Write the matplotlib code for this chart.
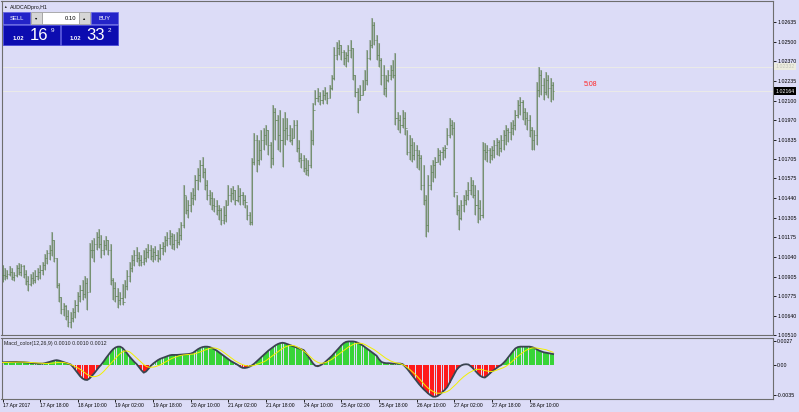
import numpy as np
import matplotlib
matplotlib.use("Agg")
import matplotlib.pyplot as plt
from matplotlib.patches import Rectangle

plt.rcParams['font.family'] = ['Liberation Sans', 'DejaVu Sans']

# ---- data (AUDCAD H1, 17-28 Apr 2017) ----
highs = [1.00987, 1.00967, 1.00953, 1.00980, 1.00967, 1.00939, 1.00987, 1.01001, 1.00994, 1.00987,
         1.00953, 1.00912, 1.00926, 1.00939, 1.00953, 1.00967, 1.00987, 1.01007, 1.01062, 1.01089,
         1.01123, 1.01211, 1.01157, 1.01035, 1.00866, 1.00770, 1.00730, 1.00716, 1.00682, 1.00668,
         1.00696, 1.00750, 1.00804, 1.00852, 1.00886, 1.00912, 1.00899, 1.01136, 1.01157, 1.01170,
         1.01211, 1.01232, 1.01191, 1.01157, 1.01184, 1.01157, 1.01130, 1.00899, 1.00872, 1.00832,
         1.00804, 1.00859, 1.00886, 1.00953, 1.01007, 1.01055, 1.01089, 1.01109, 1.01075, 1.01055,
         1.01089, 1.01103, 1.01130, 1.01123, 1.01103, 1.01116, 1.01089, 1.01130, 1.01143, 1.01184,
         1.01211, 1.01225, 1.01204, 1.01198, 1.01211, 1.01238, 1.01279, 1.01530, 1.01455, 1.01428,
         1.01482, 1.01509, 1.01597, 1.01645, 1.01699, 1.01719, 1.01645, 1.01564, 1.01496, 1.01482,
         1.01442, 1.01428, 1.01394, 1.01374, 1.01387, 1.01428, 1.01530, 1.01509, 1.01523, 1.01496,
         1.01530, 1.01509, 1.01482, 1.01462, 1.01394, 1.01346, 1.01713, 1.01882, 1.01869, 1.01835,
         1.01903, 1.01916, 1.01936, 1.01903, 1.01821, 1.02072, 1.02052, 1.02004, 1.02038, 1.01984,
         1.02025, 1.01984, 1.01936, 1.01916, 1.01970, 1.01970, 1.01835, 1.01747, 1.01733, 1.01713,
         1.01699, 1.01903, 1.02086, 1.02174, 1.02187, 1.02160, 1.02174, 1.02194, 1.02160, 1.02208,
         1.02275, 1.02465, 1.02499, 1.02513, 1.02479, 1.02445, 1.02431, 1.02479, 1.02513, 1.02459,
         1.02275, 1.02187, 1.02208, 1.02242, 1.02309, 1.02445, 1.02513, 1.02662, 1.02635, 1.02547,
         1.02492, 1.02391, 1.02343, 1.02275, 1.02309, 1.02343, 1.02377, 1.02425, 1.02025, 1.02004,
         1.02038, 1.02025, 1.01903, 1.01869, 1.01848, 1.01821, 1.01801, 1.01767, 1.01733, 1.01665,
         1.01462, 1.01597, 1.01665, 1.01699, 1.01719, 1.01781, 1.01767, 1.01787, 1.01801, 1.01916,
         1.01984, 1.01970, 1.01957, 1.01462, 1.01394, 1.01428, 1.01462, 1.01496, 1.01550, 1.01584,
         1.01564, 1.01530, 1.01496, 1.01428, 1.01821, 1.01814, 1.01801, 1.01781, 1.01794, 1.01835,
         1.01848, 1.01835, 1.01869, 1.01903, 1.01936, 1.01916, 1.01957, 1.01970, 1.02038, 1.02106,
         1.02126, 1.02106, 1.02052, 1.02025, 1.02004, 1.01923, 1.01903, 1.02228, 1.02330, 1.02309,
         1.02255, 1.02296, 1.02275, 1.02255, 1.02228]
lows = [1.00872, 1.00886, 1.00893, 1.00912, 1.00886, 1.00879, 1.00906, 1.00919, 1.00912, 1.00899,
        1.00852, 1.00811, 1.00845, 1.00859, 1.00866, 1.00886, 1.00893, 1.00919, 1.00953, 1.00994,
        1.01021, 1.01048, 1.01007, 1.00832, 1.00737, 1.00655, 1.00641, 1.00614, 1.00567, 1.00560,
        1.00601, 1.00628, 1.00668, 1.00737, 1.00750, 1.00764, 1.00682, 1.00804, 1.01035, 1.01007,
        1.01089, 1.01103, 1.01035, 1.01055, 1.01089, 1.01055, 1.00852, 1.00750, 1.00737, 1.00696,
        1.00716, 1.00716, 1.00764, 1.00818, 1.00872, 1.00939, 1.00980, 1.01007, 1.00980, 1.00980,
        1.00987, 1.01007, 1.01035, 1.01021, 1.01007, 1.01021, 1.01007, 1.01021, 1.01055, 1.01075,
        1.01116, 1.01123, 1.01096, 1.01089, 1.01103, 1.01123, 1.01157, 1.01238, 1.01333, 1.01306,
        1.01346, 1.01394, 1.01428, 1.01496, 1.01550, 1.01577, 1.01496, 1.01428, 1.01394, 1.01360,
        1.01346, 1.01326, 1.01292, 1.01259, 1.01265, 1.01279, 1.01394, 1.01414, 1.01428, 1.01394,
        1.01414, 1.01394, 1.01394, 1.01374, 1.01292, 1.01259, 1.01259, 1.01665, 1.01618, 1.01665,
        1.01699, 1.01767, 1.01801, 1.01733, 1.01645, 1.01665, 1.01835, 1.01767, 1.01753, 1.01652,
        1.01801, 1.01835, 1.01821, 1.01801, 1.01848, 1.01753, 1.01686, 1.01645, 1.01618, 1.01597,
        1.01591, 1.01645, 1.01801, 1.02072, 1.02092, 1.02072, 1.02079, 1.02106, 1.02079, 1.02120,
        1.02174, 1.02242, 1.02377, 1.02411, 1.02377, 1.02343, 1.02330, 1.02364, 1.02391, 1.02242,
        1.02126, 1.02018, 1.02106, 1.02140, 1.02174, 1.02208, 1.02377, 1.02459, 1.02479, 1.02377,
        1.02330, 1.02208, 1.02140, 1.02126, 1.02228, 1.02242, 1.02255, 1.01936, 1.01903, 1.01882,
        1.01916, 1.01869, 1.01733, 1.01699, 1.01686, 1.01699, 1.01645, 1.01631, 1.01496, 1.01394,
        1.01177, 1.01211, 1.01496, 1.01550, 1.01577, 1.01686, 1.01665, 1.01699, 1.01713, 1.01801,
        1.01848, 1.01869, 1.01448, 1.01326, 1.01225, 1.01292, 1.01346, 1.01394, 1.01428, 1.01462,
        1.01442, 1.01326, 1.01272, 1.01292, 1.01306, 1.01699, 1.01686, 1.01679, 1.01699, 1.01713,
        1.01733, 1.01726, 1.01753, 1.01767, 1.01801, 1.01821, 1.01835, 1.01869, 1.01903, 1.01984,
        1.02004, 1.01970, 1.01936, 1.01903, 1.01855, 1.01767, 1.01767, 1.01801, 1.02126, 1.02140,
        1.02106, 1.02140, 1.02120, 1.02092, 1.02106]
closes = [1.00919, 1.00912, 1.00926, 1.00939, 1.00906, 1.00919, 1.00967, 1.00939, 1.00980, 1.00926,
          1.00879, 1.00859, 1.00899, 1.00886, 1.00912, 1.00939, 1.00953, 1.00987, 1.01035, 1.01069,
          1.01089, 1.01157, 1.01035, 1.00852, 1.00770, 1.00689, 1.00709, 1.00641, 1.00601, 1.00628,
          1.00668, 1.00716, 1.00777, 1.00818, 1.00791, 1.00866, 1.00804, 1.01089, 1.01089, 1.01130,
          1.01177, 1.01130, 1.01089, 1.01123, 1.01157, 1.01089, 1.00886, 1.00832, 1.00777, 1.00750,
          1.00764, 1.00737, 1.00845, 1.00912, 1.00967, 1.01021, 1.01055, 1.01035, 1.01021, 1.01007,
          1.01035, 1.01075, 1.01089, 1.01048, 1.01075, 1.01055, 1.01035, 1.01103, 1.01116, 1.01157,
          1.01170, 1.01184, 1.01130, 1.01157, 1.01143, 1.01191, 1.01259, 1.01462, 1.01360, 1.01394,
          1.01442, 1.01462, 1.01564, 1.01597, 1.01665, 1.01618, 1.01530, 1.01462, 1.01442, 1.01394,
          1.01387, 1.01360, 1.01360, 1.01292, 1.01326, 1.01394, 1.01462, 1.01475, 1.01496, 1.01428,
          1.01455, 1.01462, 1.01428, 1.01414, 1.01326, 1.01279, 1.01686, 1.01835, 1.01699, 1.01767,
          1.01835, 1.01869, 1.01903, 1.01801, 1.01713, 1.02024, 1.01970, 1.01869, 1.01835, 1.01903,
          1.01916, 1.01869, 1.01835, 1.01848, 1.01936, 1.01780, 1.01713, 1.01699, 1.01645, 1.01631,
          1.01665, 1.01835, 1.02038, 1.02120, 1.02133, 1.02106, 1.02140, 1.02153, 1.02120, 1.02187,
          1.02255, 1.02411, 1.02459, 1.02479, 1.02431, 1.02391, 1.02411, 1.02445, 1.02459, 1.02275,
          1.02160, 1.02106, 1.02140, 1.02174, 1.02242, 1.02391, 1.02479, 1.02614, 1.02513, 1.02411,
          1.02377, 1.02275, 1.02187, 1.02242, 1.02275, 1.02309, 1.02275, 1.01984, 1.01970, 1.01936,
          1.01984, 1.01916, 1.01753, 1.01801, 1.01733, 1.01767, 1.01733, 1.01713, 1.01530, 1.01428,
          1.01259, 1.01530, 1.01618, 1.01665, 1.01686, 1.01733, 1.01753, 1.01767, 1.01781, 1.01869,
          1.01936, 1.01916, 1.01482, 1.01360, 1.01306, 1.01394, 1.01428, 1.01462, 1.01496, 1.01530,
          1.01462, 1.01394, 1.01374, 1.01326, 1.01767, 1.01753, 1.01767, 1.01733, 1.01767, 1.01801,
          1.01821, 1.01781, 1.01835, 1.01869, 1.01903, 1.01889, 1.01916, 1.01936, 1.02004, 1.02072,
          1.02092, 1.02025, 1.01984, 1.01970, 1.01903, 1.01835, 1.01869, 1.02174, 1.02275, 1.02208,
          1.02160, 1.02242, 1.02187, 1.02208, 1.02164]

# MACD main line and signal, in units of 1e-4
macd_e4 = [2.5, 2.6, 2.7, 2.8, 2.9, 3.0, 3.0, 2.9, 2.8, 2.6,
           2.4, 2.1, 1.8, 1.4, 1.2, 1.0, 1.0, 1.0, 1.5, 2.2,
           3.0, 3.8, 4.6, 5.0, 4.5, 3.6, 2.8, 1.8, 0.8, 0.0,
           -3.0, -6.5, -10, -13.5, -16, -17.5, -17.8, -16, -13, -10,
           -6.5, -3, 0, 3.5, 7.5, 11, 14.5, 17.5, 19.5, 20.5,
           20.5, 19, 16, 12.5, 9, 6, 3, 0.5, -3, -6.5,
           -9.4, -8, -5, -1.5, 1, 3, 5, 6.5, 7.5, 8.5,
           9.5, 10.5, 11, 11, 11, 11.2, 11.4, 11.6, 11.8, 12,
           12.5, 13.5, 15.5, 17.5, 19, 20, 20.5, 20.5, 20, 19,
           17.5, 16, 14, 12, 10, 8, 6, 4, 2.5, 1,
           -0.5, -2.5, -3.8, -4, -3.5, -2.5, -1, 1, 3.5, 6,
           8.5, 11, 13.5, 16, 18, 20, 22, 23.5, 24.5, 25,
           24.5, 23.5, 22.5, 21.5, 20.5, 19.5, 18.5, 17.5, 16.5, 13,
           9, 5, 1, -1.5, -2, -1, 0.5, 2.5, 5, 7.5,
           10, 13, 16, 19, 22, 24.5, 26, 26.5, 26.5, 26.5,
           26, 25, 23.5, 22, 20, 18, 16, 14, 12, 10,
           6, 3, 2, 1.5, 1.5, 1.2, 1.0, 1.0, 1.0, 1.0,
           0.5, -2, -5, -8.5, -12, -15.5, -19, -22.5, -25.5, -28.5,
           -31, -33.5, -35.5, -37, -37, -36, -34, -31.5, -29, -26,
           -21, -16, -11, -6, -3, -1, 0, 0.3, 0, -2,
           -4.5, -7.5, -10.5, -13, -14.5, -15, -13, -10.5, -8, -6,
           -4, -2, -0.5, 2, 5, 8.5, 12, 15.5, 18.5, 20,
           20.5, 20.5, 20.5, 20.5, 20.5, 20, 19, 17.5, 16, 15,
           14, 13.5, 13, 12.5, 12]
signal_e4 = [2.2, 2.3, 2.4, 2.5, 2.6, 2.7, 2.8, 2.8, 2.8, 2.7,
             2.6, 2.5, 2.3, 2.1, 1.9, 1.7, 1.5, 1.3, 1.2, 1.2,
             1.3, 1.5, 1.8, 2.1, 2.4, 2.5, 2.3, 1.8, 1.0, 0,
             -1.2, -2.5, -4.0, -5.5, -7.5, -9.5, -11.5, -13, -14, -14,
             -13.5, -12.5, -10.5, -8, -5, -2, 1, 4, 7, 10,
             12.5, 14.5, 15.5, 15.5, 14.5, 12.5, 10, 7.5, 5, 2.5,
             0, -2, -3, -3.2, -3, -2.5, -1.5, -0.5, 1, 2.5,
             4, 5.5, 7, 8, 9, 10, 10.5, 11, 11.3, 11.5,
             11.7, 12, 12.5, 13.5, 14.5, 15.5, 16.5, 17.5, 18.5, 19,
             19, 18.5, 17.5, 16, 14, 12, 10, 8, 6, 4,
             2.5, 1, 0, -1, -1.5, -1.7, -1.5, -1, 0, 1,
             2, 3, 4.5, 6.5, 8.5, 10.5, 12.5, 14.5, 16.5, 18.5,
             20, 21, 22, 22, 21.5, 20.5, 19, 17.5, 15.5, 13.5,
             11, 8.5, 6, 4, 2.5, 1.5, 1.5, 2, 3, 4.5,
             6, 8, 10, 12, 14, 16, 18, 20, 21.5, 23,
             24, 24.5, 24.5, 24, 23, 21.5, 20, 18.5, 17, 15,
             13, 11, 9, 7, 5.5, 4, 3, 2, 1.5, 1,
             0, -1.5, -3.5, -5.5, -8, -10.5, -13, -16, -19, -22,
             -25, -27.5, -29.5, -31, -32.5, -33, -33, -32.5, -32, -31,
             -29.5, -27, -24.5, -22, -19, -16.5, -14, -12, -10, -8.5,
             -7, -6, -5.5, -5.5, -6, -7, -7.5, -8, -8, -7.5,
             -6.5, -5.5, -4.5, -3.5, -2, 0, 2, 4.5, 7, 9.5,
             11.5, 13.5, 15.5, 17, 18, 19, 19, 19, 18.5, 18,
             17.5, 17, 16, 15, 14]

price_ticks = [1.02635, 1.02500, 1.02370, 1.02235, 1.02100, 1.01970, 1.01835, 1.01705, 1.01575,
               1.01440, 1.01305, 1.01175, 1.01040, 1.00905, 1.00775, 1.00640, 1.00510]
macd_ticks = [0.0027, 0.0, -0.0035]
macd_tick_labels = ["0.0027", "0.00", "-0.0035"]
time_labels = ["17 Apr 2017", "17 Apr 18:00", "18 Apr 10:00", "19 Apr 02:00", "19 Apr 18:00",
               "20 Apr 10:00", "21 Apr 02:00", "21 Apr 18:00", "24 Apr 10:00", "25 Apr 02:00",
               "25 Apr 18:00", "26 Apr 10:00", "27 Apr 02:00", "27 Apr 18:00", "28 Apr 10:00"]
bars_per_label = 16
bid = 1.02164
ask = 1.02332

# ---- figure ----
W, H = 799, 412
BG = "#dcdcf7"
AXC = "#6e6e6e"

fig = plt.figure(figsize=(W / 100, H / 100), dpi=100, facecolor=BG)


def box(x0, y0, x1, y1):
    # pixel box (top-left origin) -> figure fraction
    return [x0 / W, 1 - y1 / H, (x1 - x0) / W, (y1 - y0) / H]


def rect(x0, y0, x1, y1, fc, ec="none"):
    fig.add_artist(Rectangle((x0 / W, 1 - y1 / H), (x1 - x0) / W, (y1 - y0) / H,
                             transform=fig.transFigure, fc=fc, ec=ec, lw=0.6, zorder=5))


def ftext(x, y, s, **kw):
    kw.setdefault("zorder", 6)
    fig.text(x / W, 1 - y / H, s, **kw)


highs = np.array(highs)
lows = np.array(lows)
closes = np.array(closes)
opens = np.r_[closes[0], closes[:-1]]
macd = np.array(macd_e4) * 1e-4
signal = np.array(signal_e4) * 1e-4
idx = np.arange(len(closes))
xlim = (-0.43, 327.45)

# main price panel
ax = fig.add_axes(box(1.5, 1, 773, 335), facecolor=BG)
ax.set_xlim(*xlim)
ax.set_ylim(1.00513, 1.02777)
ax.axhline(ask, color="#ebebe8", lw=0.7, zorder=1)
ax.axhline(bid, color="#ebebe8", lw=0.7, zorder=1)
ax.vlines(idx, lows, highs, color="#abb5b6", lw=1.5, zorder=2)
ax.vlines(idx, lows, highs, color="#5f8255", lw=0.5, zorder=3)
ax.hlines(closes, idx, idx + 0.45, color="#5f8255", lw=0.55, zorder=3)
ax.hlines(opens, idx - 0.45, idx, color="#5f8255", lw=0.55, zorder=3)

ax.yaxis.tick_right()
ax.set_yticks(price_ticks)
ax.set_yticklabels([f"{t:.5f}" for t in price_ticks])
ax.tick_params(axis="y", length=2, width=0.6, pad=1, labelsize=3.8, colors="black")
ax.set_xticks([])
for s in ax.spines.values():
    s.set_color(AXC)
    s.set_linewidth(0.8)

ytr = ax.get_yaxis_transform()
ax.text(1.003, ask, "1.02332", transform=ytr, ha="left", va="center", fontsize=3.8,
        color="#c4c4bc", clip_on=False, zorder=6,
        bbox=dict(boxstyle="square,pad=0.25", fc="#ececdf", ec="none"))
ax.text(1.003, bid, f"{bid:.5f}", transform=ytr, ha="left", va="center", fontsize=3.8,
        color="white", clip_on=False, zorder=6,
        bbox=dict(boxstyle="square,pad=0.25", fc="black", ec="none"))

# MACD panel
ax2 = fig.add_axes(box(1.5, 338, 773, 399), facecolor=BG)
ax2.set_xlim(*xlim)
ax2.set_ylim(-0.003964, 0.003045)
ax2.bar(idx, macd, width=0.8, color=np.where(macd >= 0, "#38d438", "#ff1a1a"), linewidth=0, zorder=2)
ax2.plot(idx, macd, color="#3a4450", lw=1.3, zorder=3)
ax2.plot(idx, signal, color="#f2f000", lw=0.7, zorder=4)
ax2.yaxis.tick_right()
ax2.set_yticks(macd_ticks)
ax2.set_yticklabels(macd_tick_labels)
ax2.tick_params(axis="y", length=2, width=0.6, pad=1, labelsize=3.8, colors="black")
ax2.set_xticks(np.arange(len(time_labels)) * bars_per_label)
ax2.set_xticklabels(time_labels)
for lab in ax2.get_xticklabels():
    lab.set_ha("left")
ax2.tick_params(axis="x", length=2, width=0.6, pad=1, labelsize=3.6, colors="black")
for s in ax2.spines.values():
    s.set_color(AXC)
    s.set_linewidth(0.8)

ftext(4, 343.5, "Macd_color(12,26,9) 0.0010 0.0010 0.0012", fontsize=3.8, color="#202020",
      va="center")

# chart title and timer
ftext(3, 7, "\u25b2", fontsize=2.6, color="#303030", va="center")
ftext(10, 7, "AUDCADpro,H1", fontsize=3.8, color="#101010", va="center")
ftext(584, 85, "5:08", fontsize=5, color="#ff2626", va="center")

# one-click trading panel
rect(3, 12, 30, 24, "#2424c8", "#6464e0")
rect(91, 12, 118, 24, "#2424c8", "#6464e0")
rect(31, 12, 42, 24, "#d6d6d6", "#a0a0a0")
rect(79, 12, 90, 24, "#d6d6d6", "#a0a0a0")
rect(42, 12, 79, 24, "#ffffff", "#a0a0a0")
rect(3, 25, 60, 45, "#0c0cb0", "#4a4ad8")
rect(61, 25, 118, 45, "#0c0cb0", "#4a4ad8")
ftext(16.5, 18, "SELL", fontsize=4.2, color="white", ha="center", va="center")
ftext(104.5, 18, "BUY", fontsize=4.2, color="white", ha="center", va="center")
ftext(36.5, 18, "\u25be", fontsize=3.2, color="black", ha="center", va="center")
ftext(84.5, 18, "\u25b4", fontsize=3.2, color="black", ha="center", va="center")
ftext(76, 18, "0.10", fontsize=4.2, color="black", ha="right", va="center")
ftext(13, 38, "1.02", fontsize=4.2, color="white", va="center", fontweight="bold")
ftext(39, 36, "16", fontsize=12, color="white", ha="center", va="center")
ftext(51, 30, "9", fontsize=4.6, color="white", va="center")
ftext(70, 38, "1.02", fontsize=4.2, color="white", va="center", fontweight="bold")
ftext(95.5, 36, "33", fontsize=12, color="white", ha="center", va="center")
ftext(108, 30, "2", fontsize=4.6, color="white", va="center")

fig.savefig("out.png", dpi=100, facecolor=BG)
